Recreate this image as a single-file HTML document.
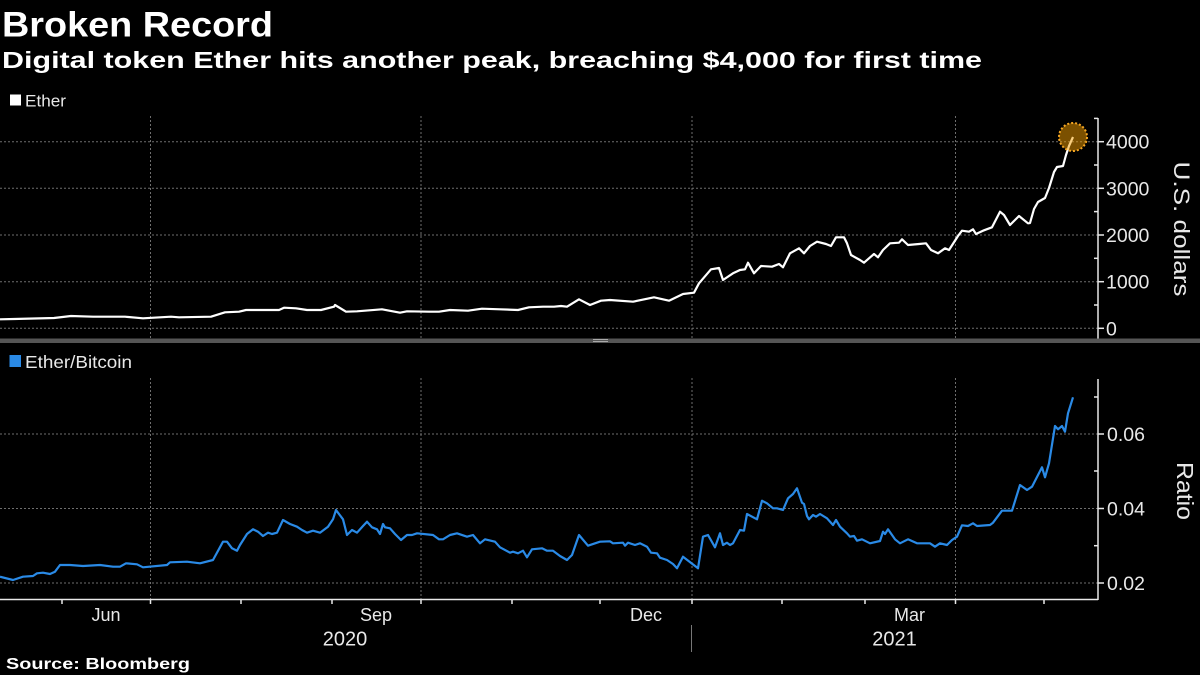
<!DOCTYPE html>
<html>
<head>
<meta charset="utf-8">
<style>
html,body{margin:0;padding:0;background:#000;}
svg{display:block;}
text{font-family:"Liberation Sans",sans-serif;}
</style>
</head>
<body>
<svg width="1200" height="675" viewBox="0 0 1200 675" xmlns="http://www.w3.org/2000/svg">
<rect x="0" y="0" width="1200" height="675" fill="#000"/>

<!-- Titles -->
<text x="2" y="36.5" font-size="35" font-weight="bold" fill="#fff" textLength="271" lengthAdjust="spacingAndGlyphs">Broken Record</text>
<text x="2" y="68" font-size="23" font-weight="bold" fill="#fff" textLength="980" lengthAdjust="spacingAndGlyphs">Digital token Ether hits another peak, breaching $4,000 for first time</text>

<!-- Legend top -->
<rect x="10" y="94.5" width="11" height="11" fill="#fff"/>
<text x="25" y="106.5" font-size="17" fill="#e8e8e8" textLength="41" lengthAdjust="spacingAndGlyphs">Ether</text>

<!-- Top chart gridlines -->
<g stroke="#6e6e6e" stroke-width="1" stroke-dasharray="2,2" fill="none">
  <line x1="0" y1="141.7" x2="1098" y2="141.7"/>
  <line x1="0" y1="188.3" x2="1098" y2="188.3"/>
  <line x1="0" y1="235" x2="1098" y2="235"/>
  <line x1="0" y1="281.7" x2="1098" y2="281.7"/>
  <line x1="0" y1="328.3" x2="1098" y2="328.3"/>
  <line x1="150.5" y1="116" x2="150.5" y2="338"/>
  <line x1="421" y1="116" x2="421" y2="338"/>
  <line x1="692" y1="116" x2="692" y2="338"/>
  <line x1="955.5" y1="116" x2="955.5" y2="338"/>
  <!-- bottom chart -->
  <line x1="0" y1="434" x2="1098" y2="434"/>
  <line x1="0" y1="508.5" x2="1098" y2="508.5"/>
  <line x1="0" y1="583" x2="1098" y2="583"/>
  <line x1="150.5" y1="378" x2="150.5" y2="599"/>
  <line x1="421" y1="378" x2="421" y2="599"/>
  <line x1="692" y1="378" x2="692" y2="599"/>
  <line x1="955.5" y1="378" x2="955.5" y2="599"/>
</g>

<!-- Top right axis -->
<g stroke="#e8e8e8" stroke-width="1.5" fill="none">
  <line x1="1098" y1="118" x2="1098" y2="339"/>
  <line x1="1098" y1="141.7" x2="1104" y2="141.7"/>
  <line x1="1098" y1="188.3" x2="1104" y2="188.3"/>
  <line x1="1098" y1="235" x2="1104" y2="235"/>
  <line x1="1098" y1="281.7" x2="1104" y2="281.7"/>
  <line x1="1098" y1="328.3" x2="1104" y2="328.3"/>
  <line x1="1094" y1="118.4" x2="1098" y2="118.4"/>
  <line x1="1094" y1="165" x2="1098" y2="165"/>
  <line x1="1094" y1="211.6" x2="1098" y2="211.6"/>
  <line x1="1094" y1="258.3" x2="1098" y2="258.3"/>
  <line x1="1094" y1="305" x2="1098" y2="305"/>
</g>
<g font-size="19.5" fill="#e8e8e8">
  <text x="1106" y="148.7">4000</text>
  <text x="1106" y="195.3">3000</text>
  <text x="1106" y="242">2000</text>
  <text x="1106" y="288.7">1000</text>
  <text x="1106" y="335.3">0</text>
</g>
<text transform="translate(1174,229) rotate(90)" text-anchor="middle" font-size="22" fill="#e8e8e8" textLength="135" lengthAdjust="spacingAndGlyphs">U.S. dollars</text>

<!-- Separator -->
<rect x="0" y="338.5" width="1200" height="4.5" fill="#555"/>
<rect x="593" y="339" width="15" height="1" fill="#aaa"/>
<rect x="593" y="341" width="15" height="1" fill="#aaa"/>

<!-- Ether line -->
<polyline fill="none" stroke="#fff" stroke-width="2.2" stroke-linejoin="round" points="0,319.3 14,319 54,318 71,316 93,316.7 125,316.7 143,318.3 171,316.7 179,317.3 211,316.7 225,312.3 239,311.7 246,310 279,310 284,307.7 296,308.3 307,310 321,310 334,306.7 335,305 346,311.7 357,311.3 382,309.3 400,312.7 407,311.3 429,311.7 439,311.7 450,310 468,310.7 482,308.7 500,309.3 518,310 529,307.3 543,306.7 554,306.7 561,306 567,306.7 579,299.3 590,305 601,300.7 610,300 633,301.7 654,297.3 669,300.7 683,294 694,292.7 699,283.3 711,269.3 719,268 723,280 733,273.3 740,270 745,269.3 748,262.7 754,273.3 761,266 772,266.7 779,264 783,267.3 790,253.3 799,248.3 804,253.3 810,246 817,241.7 826,244 831,246 836,237.3 844,237.3 847,243.3 851,255 854,256.7 860,260 864,262.7 869,258.3 874,254 878,257.3 883,250 890,243.3 899,242.7 902,239.3 908,245 919,244 926,243.3 931,250 938,253.3 945,248.3 949,250 958,236 962,230.7 969,231.7 973,229.3 976,234 983,230.7 992,227.3 1000,211.7 1004,215 1010,225 1019,216 1028,223.3 1030,223 1034,209 1038,202 1045,198 1049,188 1054,172 1057,167 1063,166 1066,155 1069,146 1073,137"/>

<!-- Peak marker -->
<circle cx="1073" cy="137" r="14" fill="#f5a000" fill-opacity="0.5" stroke="#f5a623" stroke-width="2" stroke-dasharray="2,2"/>

<!-- Legend bottom -->
<rect x="9.5" y="355" width="11.5" height="12" fill="#2a8ae6"/>
<text x="25" y="368" font-size="17.5" fill="#e8e8e8" textLength="107" lengthAdjust="spacingAndGlyphs">Ether/Bitcoin</text>

<!-- Bottom right axis -->
<g stroke="#e8e8e8" stroke-width="1.5" fill="none">
  <line x1="1098" y1="379" x2="1098" y2="600"/>
  <line x1="0" y1="599.5" x2="1098" y2="599.5"/>
  <line x1="1098" y1="434" x2="1104" y2="434"/>
  <line x1="1098" y1="508.5" x2="1104" y2="508.5"/>
  <line x1="1098" y1="583" x2="1104" y2="583"/>
  <line x1="1094" y1="397" x2="1098" y2="397"/>
  <line x1="1094" y1="471" x2="1098" y2="471"/>
  <line x1="1094" y1="545.7" x2="1098" y2="545.7"/>
  <!-- x ticks -->
  <line x1="62" y1="599" x2="62" y2="604"/>
  <line x1="150.5" y1="599" x2="150.5" y2="604"/>
  <line x1="241" y1="599" x2="241" y2="604"/>
  <line x1="332" y1="599" x2="332" y2="604"/>
  <line x1="421" y1="599" x2="421" y2="604"/>
  <line x1="512" y1="599" x2="512" y2="604"/>
  <line x1="600" y1="599" x2="600" y2="604"/>
  <line x1="692" y1="599" x2="692" y2="604"/>
  <line x1="782" y1="599" x2="782" y2="604"/>
  <line x1="865" y1="599" x2="865" y2="604"/>
  <line x1="955.5" y1="599" x2="955.5" y2="604"/>
  <line x1="1044" y1="599" x2="1044" y2="604"/>
</g>
<line x1="691.5" y1="625" x2="691.5" y2="652" stroke="#777" stroke-width="1"/>

<g font-size="19.5" fill="#e8e8e8">
  <text x="1107" y="441">0.06</text>
  <text x="1107" y="515.5">0.04</text>
  <text x="1107" y="590">0.02</text>
</g>
<text transform="translate(1177,491) rotate(90)" text-anchor="middle" font-size="23" fill="#e8e8e8" textLength="58" lengthAdjust="spacingAndGlyphs">Ratio</text>

<!-- Ether/Bitcoin line -->
<polyline fill="none" stroke="#2a8ae6" stroke-width="2.2" stroke-linejoin="round" points="0,576.7 13,580 23,576.7 33,576 37,573.3 43,572.7 50,574 55,571.7 60,565 70,565 83,566 100,565 113,566.7 120,566.7 126,563.3 137,564.3 143,567.3 167,565 170,562.3 187,561.7 200,563.3 213,560 223,541.7 227,541.7 232,548.3 237,550.7 240,545 247,534 253,529.3 258,531.7 263,536 268,532.7 272,534 277,532.7 283,520 290,524 297,526.7 302,530 307,532.7 313,530.7 320,532.7 328,526.7 333,519.3 336,510 343,519.3 347,535 352,530 357,532.7 363,526 367,521.7 372,527.3 377,529.3 380,534 383,524 385,527.3 390,528.3 395,534 401,540 407,535 412,535 417,533.3 433,535 439,539.3 443,539.3 450,535 457,533.3 467,536.7 473,535 480,543.3 485,539.3 495,541.7 500,547.3 510,552.7 513,551.7 518,553.3 523,550.7 527,557.3 532,549.3 542,548.3 547,550.7 553,550.7 560,556 567,560 572,555 579,535 588,545.7 600,541.7 610,541.3 613,543.3 623,542.7 625,545.7 628,542.7 635,545 640,543.3 647,546.7 651,552.7 657,553.3 660,557.7 667,560 673,564 677,568.3 683,556.7 698,568.3 703,536.7 708,535 715,547.3 720,533.3 723,545 727,542.7 730,545 733,543.3 740,530 744,530.7 747,514 757,519.3 762,500.7 767,503.3 773,508.3 777,508.3 783,510 788,498.3 793,494 797,488.3 802,502.7 804,504 807,516 809,519.3 813,515 816,516.7 820,514 827,518.3 833,525 836,520 840,526.7 847,533.3 850,536.7 854,536 857,540.7 862,539.3 870,543.3 880,541 883,531.7 885,534 888,529.3 895,539.3 900,543.3 908,539.3 917,543.3 930,543.3 935,546.7 940,543.3 947,545 952,540 957,536.7 962,525.3 968,526 973,523.3 977,526 990,525 993,522.7 1002,510.7 1012,510.7 1020,485 1027,490 1032,486.7 1042,467.3 1045,477.3 1049,463.3 1055,426 1058,429.3 1062,426 1065,431.7 1068,413.3 1073,397.3"/>

<!-- X labels -->
<g font-size="18" fill="#e8e8e8" text-anchor="middle">
  <text x="106" y="621">Jun</text>
  <text x="376" y="621">Sep</text>
  <text x="646" y="621">Dec</text>
  <text x="909.5" y="621">Mar</text>
</g>
<g font-size="20" fill="#e8e8e8" text-anchor="middle">
  <text x="345" y="645.5">2020</text>
  <text x="894.5" y="645.5">2021</text>
</g>

<!-- Source -->
<text x="6" y="669" font-size="16" font-weight="bold" fill="#fff" textLength="184" lengthAdjust="spacingAndGlyphs">Source: Bloomberg</text>
</svg>
</body>
</html>
